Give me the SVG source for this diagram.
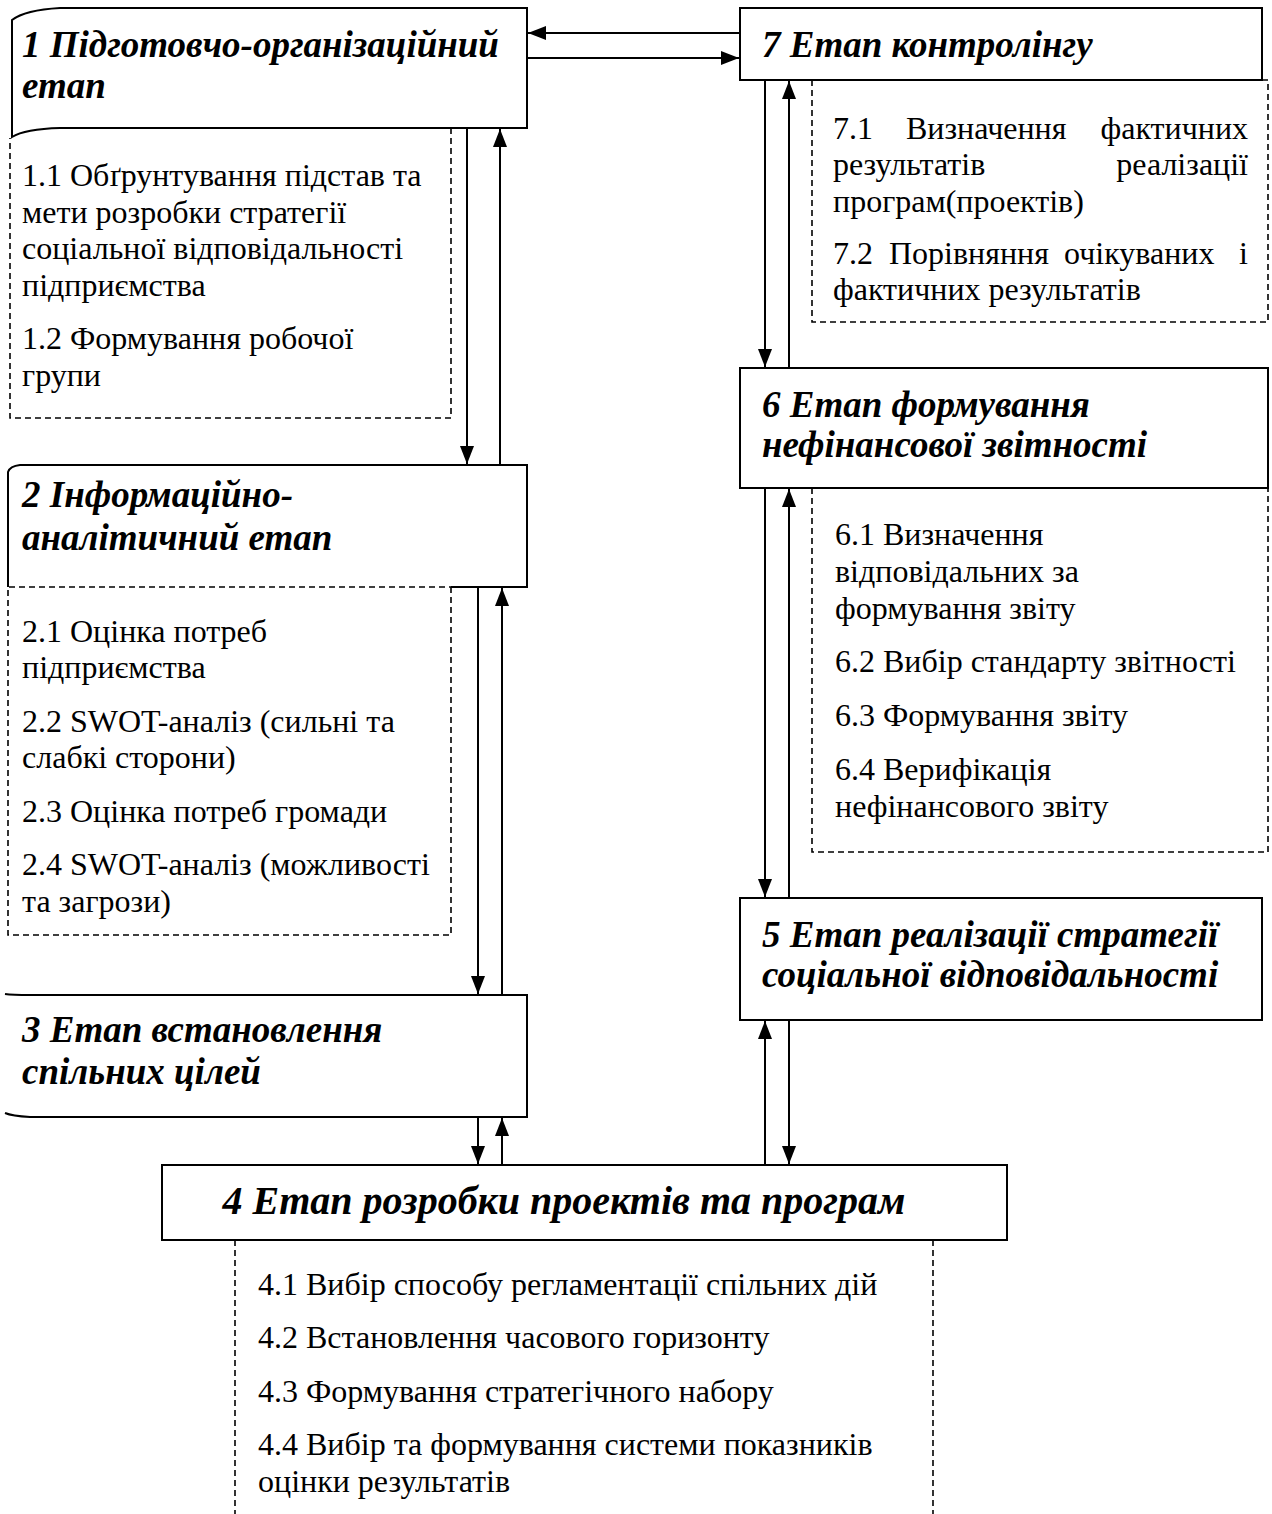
<svg xmlns="http://www.w3.org/2000/svg" width="1272" height="1514" viewBox="0 0 1272 1514">
<style>
.box{fill:#fff;stroke:#000;stroke-width:2}
.dash{fill:none;stroke:#000;stroke-width:1.6;stroke-dasharray:6 4}
.solid{fill:none;stroke:#000;stroke-width:2}
.h{font-family:"Liberation Serif","Times New Roman",serif;font-weight:bold;font-style:italic;font-size:37px;fill:#000}
.h4{font-size:40px}
.t{font-family:"Liberation Serif","Times New Roman",serif;font-size:32px;fill:#000}
.c{fill:none;stroke:#000;stroke-width:2}
</style>
<defs>
<marker id="ah" markerUnits="userSpaceOnUse" markerWidth="18" markerHeight="14" refX="18" refY="7" viewBox="0 0 18 14" orient="auto">
<path d="M0,0 L18,7 L0,14 Z" fill="#000"/>
</marker>
</defs>
<rect width="1272" height="1514" fill="#fff"/>

<g id="connectors">
<line class="c" x1="740" y1="33" x2="528" y2="33" marker-end="url(#ah)"/>
<line class="c" x1="527" y1="58" x2="739" y2="58" marker-end="url(#ah)"/>
<line class="c" x1="467" y1="128" x2="467" y2="464" marker-end="url(#ah)"/>
<line class="c" x1="500" y1="465" x2="500" y2="129" marker-end="url(#ah)"/>
<line class="c" x1="478" y1="587" x2="478" y2="994" marker-end="url(#ah)"/>
<line class="c" x1="502" y1="995" x2="502" y2="588" marker-end="url(#ah)"/>
<line class="c" x1="478" y1="1117" x2="478" y2="1164" marker-end="url(#ah)"/>
<line class="c" x1="502" y1="1165" x2="502" y2="1118" marker-end="url(#ah)"/>
<line class="c" x1="765" y1="80" x2="765" y2="367" marker-end="url(#ah)"/>
<line class="c" x1="789" y1="368" x2="789" y2="81" marker-end="url(#ah)"/>
<line class="c" x1="765" y1="488" x2="765" y2="897" marker-end="url(#ah)"/>
<line class="c" x1="789" y1="898" x2="789" y2="489" marker-end="url(#ah)"/>
<line class="c" x1="765" y1="1165" x2="765" y2="1021" marker-end="url(#ah)"/>
<line class="c" x1="789" y1="1020" x2="789" y2="1164" marker-end="url(#ah)"/>
</g>

<g id="node1">
<path class="box" d="M527 8 L60 8 Q25 10 12 20 L12 137 Q25 129 60 128 L527 128 Z"/>
<text class="h" x="22" y="57">1 Підготовчо-організаційний</text>
<text class="h" x="22" y="98">етап</text>
</g>
<g id="node1-sub">
<path class="dash" d="M451 128 V418 H10 V138"/>
<text class="t" x="22" y="186">1.1 Обґрунтування підстав та</text>
<text class="t" x="22" y="223">мети розробки стратегії</text>
<text class="t" x="22" y="259">соціальної відповідальності</text>
<text class="t" x="22" y="296">підприємства</text>
<text class="t" x="22" y="349">1.2 Формування робочої</text>
<text class="t" x="22" y="386">групи</text>
</g>

<g id="node2">
<path class="box" d="M8 587 L8 472 Q10 466 20 465 L527 465 L527 587 Z" style="stroke:none"/>
<path class="solid" d="M8 587 L8 472 Q10 466 20 465 L527 465 L527 587 L451 587"/>
<text class="h" x="22" y="507">2 Інформаційно-</text>
<text class="h" x="22" y="550">аналітичний етап</text>
</g>
<g id="node2-sub">
<path class="dash" d="M451 587 V935 H8 V587 H451"/>
<text class="t" x="22" y="642">2.1 Оцінка потреб</text>
<text class="t" x="22" y="678">підприємства</text>
<text class="t" x="22" y="732">2.2 SWOT-аналіз (сильні та</text>
<text class="t" x="22" y="768">слабкі сторони)</text>
<text class="t" x="22" y="822">2.3 Оцінка потреб громади</text>
<text class="t" x="22" y="875">2.4 SWOT-аналіз (можливості</text>
<text class="t" x="22" y="912">та загрози)</text>
</g>

<g id="node3">
<path class="solid" d="M5 994 Q12 995 30 995 L527 995 L527 1117 L30 1117 Q12 1116 5 1113"/>
<text class="h" x="22" y="1042">3 Етап встановлення</text>
<text class="h" x="22" y="1084">спільних цілей</text>
</g>

<g id="node4">
<rect class="box" x="162" y="1165" width="845" height="75"/>
<text class="h h4" x="564" y="1214" text-anchor="middle">4 Етап розробки проектів та програм</text>
</g>
<g id="node4-sub">
<path class="dash" d="M235 1240 V1514 M933 1240 V1514"/>
<text class="t" x="258" y="1295">4.1 Вибір способу регламентації спільних дій</text>
<text class="t" x="258" y="1348">4.2 Встановлення часового горизонту</text>
<text class="t" x="258" y="1402">4.3 Формування стратегічного набору</text>
<text class="t" x="258" y="1455">4.4 Вибір та формування системи показників</text>
<text class="t" x="258" y="1492">оцінки результатів</text>
</g>

<g id="node5">
<rect class="box" x="740" y="898" width="522" height="122"/>
<text class="h" x="762" y="947">5 Етап реалізації стратегії</text>
<text class="h" x="762" y="987">соціальної відповідальності</text>
</g>

<g id="node6">
<rect class="box" x="740" y="368" width="528" height="120"/>
<text class="h" x="762" y="417">6 Етап формування</text>
<text class="h" x="762" y="457">нефінансової звітності</text>
</g>
<g id="node6-sub">
<path class="dash" d="M812 488 V852 H1268 V488"/>
<text class="t" x="835" y="545">6.1 Визначення</text>
<text class="t" x="835" y="582">відповідальних за</text>
<text class="t" x="835" y="619">формування звіту</text>
<text class="t" x="835" y="672">6.2 Вибір стандарту звітності</text>
<text class="t" x="835" y="726">6.3 Формування звіту</text>
<text class="t" x="835" y="780">6.4 Верифікація</text>
<text class="t" x="835" y="817">нефінансового звіту</text>
</g>

<g id="node7">
<rect class="box" x="740" y="8" width="522" height="72"/>
<text class="h" x="762" y="57">7 Етап контролінгу</text>
</g>
<g id="node7-sub">
<path class="dash" d="M812 80 V322 H1268 V80 H1262"/>
<text class="t" x="833" y="139">7.1</text>
<text class="t" x="906" y="139">Визначення</text>
<text class="t" x="1248" y="139" text-anchor="end">фактичних</text>
<text class="t" x="833" y="175">результатів</text>
<text class="t" x="1248" y="175" text-anchor="end">реалізації</text>
<text class="t" x="833" y="212">програм(проектів)</text>
<text class="t" x="833" y="264">7.2</text>
<text class="t" x="889" y="264">Порівняння</text>
<text class="t" x="1064" y="264">очікуваних</text>
<text class="t" x="1248" y="264" text-anchor="end">і</text>
<text class="t" x="833" y="300">фактичних результатів</text>
</g>
</svg>
